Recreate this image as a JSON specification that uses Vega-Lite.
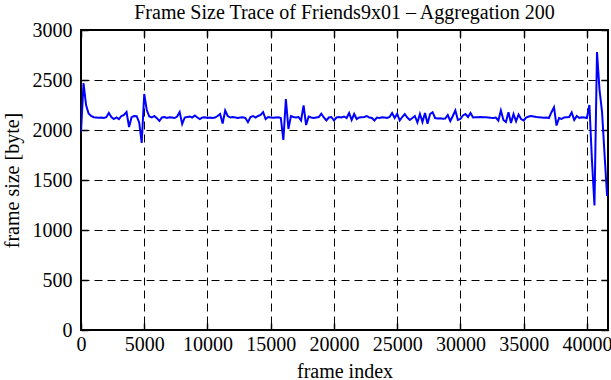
{
  "$schema": "https://vega.github.io/schema/vega-lite/v6.json",
  "width": 527,
  "height": 300,
  "autosize": {"type": "none"},
  "padding": {"left": 81, "top": 30, "right": 3, "bottom": 50},
  "background": "white",
  "config": {"view": {"stroke": "black", "strokeWidth": 2}, "font": "Liberation Serif"},
  "title": {"text": "Frame Size Trace of Friends9x01 – Aggregation 200", "fontSize": 20, "fontWeight": "normal", "font": "Liberation Serif", "color": "black", "offset": -3},
  "data": {"values": [
    {"frame": 0, "size": 1980}, {"frame": 200, "size": 2470}, {"frame": 400, "size": 2250}, {"frame": 600, "size": 2165}, {"frame": 800, "size": 2140},
    {"frame": 1000, "size": 2128}, {"frame": 1200, "size": 2125}, {"frame": 1400, "size": 2122}, {"frame": 1600, "size": 2125}, {"frame": 1800, "size": 2120},
    {"frame": 2000, "size": 2128}, {"frame": 2200, "size": 2170}, {"frame": 2400, "size": 2130}, {"frame": 2600, "size": 2110}, {"frame": 2800, "size": 2125},
    {"frame": 3000, "size": 2108}, {"frame": 3200, "size": 2140}, {"frame": 3400, "size": 2150}, {"frame": 3600, "size": 2180}, {"frame": 3800, "size": 2030},
    {"frame": 4000, "size": 2128}, {"frame": 4200, "size": 2140}, {"frame": 4400, "size": 2138}, {"frame": 4600, "size": 2075}, {"frame": 4800, "size": 1870},
    {"frame": 5000, "size": 2360}, {"frame": 5200, "size": 2200}, {"frame": 5400, "size": 2135}, {"frame": 5600, "size": 2125}, {"frame": 5800, "size": 2140},
    {"frame": 6000, "size": 2118}, {"frame": 6200, "size": 2090}, {"frame": 6400, "size": 2125}, {"frame": 6600, "size": 2130}, {"frame": 6800, "size": 2120},
    {"frame": 7000, "size": 2128}, {"frame": 7200, "size": 2125}, {"frame": 7400, "size": 2120}, {"frame": 7600, "size": 2135}, {"frame": 7800, "size": 2180},
    {"frame": 8000, "size": 2060}, {"frame": 8200, "size": 2125}, {"frame": 8400, "size": 2130}, {"frame": 8600, "size": 2135}, {"frame": 8800, "size": 2125},
    {"frame": 9000, "size": 2145}, {"frame": 9200, "size": 2125}, {"frame": 9400, "size": 2110}, {"frame": 9600, "size": 2125}, {"frame": 9800, "size": 2128},
    {"frame": 10000, "size": 2120}, {"frame": 10200, "size": 2125}, {"frame": 10400, "size": 2120}, {"frame": 10600, "size": 2125}, {"frame": 10800, "size": 2140},
    {"frame": 11000, "size": 2160}, {"frame": 11200, "size": 2065}, {"frame": 11400, "size": 2195}, {"frame": 11600, "size": 2140}, {"frame": 11800, "size": 2125},
    {"frame": 12000, "size": 2130}, {"frame": 12200, "size": 2125}, {"frame": 12400, "size": 2120}, {"frame": 12600, "size": 2125}, {"frame": 12800, "size": 2128},
    {"frame": 13000, "size": 2120}, {"frame": 13200, "size": 2078}, {"frame": 13400, "size": 2130}, {"frame": 13600, "size": 2140}, {"frame": 13800, "size": 2125},
    {"frame": 14000, "size": 2140}, {"frame": 14200, "size": 2150}, {"frame": 14400, "size": 2178}, {"frame": 14600, "size": 2110}, {"frame": 14800, "size": 2130},
    {"frame": 15000, "size": 2125}, {"frame": 15200, "size": 2122}, {"frame": 15400, "size": 2125}, {"frame": 15600, "size": 2128}, {"frame": 15800, "size": 2120},
    {"frame": 16000, "size": 1900}, {"frame": 16200, "size": 2310}, {"frame": 16400, "size": 2010}, {"frame": 16600, "size": 2140}, {"frame": 16800, "size": 2130},
    {"frame": 17000, "size": 2125}, {"frame": 17200, "size": 2130}, {"frame": 17400, "size": 2095}, {"frame": 17600, "size": 2245}, {"frame": 17800, "size": 2050},
    {"frame": 18000, "size": 2135}, {"frame": 18200, "size": 2125}, {"frame": 18400, "size": 2120}, {"frame": 18600, "size": 2125}, {"frame": 18800, "size": 2130},
    {"frame": 19000, "size": 2162}, {"frame": 19200, "size": 2125}, {"frame": 19400, "size": 2095}, {"frame": 19600, "size": 2125}, {"frame": 19800, "size": 2130},
    {"frame": 20000, "size": 2095}, {"frame": 20200, "size": 2125}, {"frame": 20400, "size": 2130}, {"frame": 20600, "size": 2125}, {"frame": 20800, "size": 2135},
    {"frame": 21000, "size": 2120}, {"frame": 21200, "size": 2170}, {"frame": 21400, "size": 2100}, {"frame": 21600, "size": 2160}, {"frame": 21800, "size": 2110},
    {"frame": 22000, "size": 2125}, {"frame": 22200, "size": 2128}, {"frame": 22400, "size": 2130}, {"frame": 22600, "size": 2140}, {"frame": 22800, "size": 2125},
    {"frame": 23000, "size": 2120}, {"frame": 23200, "size": 2095}, {"frame": 23400, "size": 2125}, {"frame": 23600, "size": 2120}, {"frame": 23800, "size": 2128},
    {"frame": 24000, "size": 2125}, {"frame": 24200, "size": 2120}, {"frame": 24400, "size": 2130}, {"frame": 24600, "size": 2170}, {"frame": 24800, "size": 2120},
    {"frame": 25000, "size": 2162}, {"frame": 25200, "size": 2095}, {"frame": 25400, "size": 2130}, {"frame": 25600, "size": 2160}, {"frame": 25800, "size": 2125},
    {"frame": 26000, "size": 2100}, {"frame": 26200, "size": 2120}, {"frame": 26400, "size": 2140}, {"frame": 26600, "size": 2075}, {"frame": 26800, "size": 2160},
    {"frame": 27000, "size": 2080}, {"frame": 27200, "size": 2170}, {"frame": 27400, "size": 2062}, {"frame": 27600, "size": 2160}, {"frame": 27800, "size": 2178},
    {"frame": 28000, "size": 2120}, {"frame": 28200, "size": 2115}, {"frame": 28400, "size": 2118}, {"frame": 28600, "size": 2112}, {"frame": 28800, "size": 2115},
    {"frame": 29000, "size": 2150}, {"frame": 29200, "size": 2090}, {"frame": 29400, "size": 2140}, {"frame": 29600, "size": 2195}, {"frame": 29800, "size": 2100},
    {"frame": 30000, "size": 2110}, {"frame": 30200, "size": 2145}, {"frame": 30400, "size": 2160}, {"frame": 30600, "size": 2130}, {"frame": 30800, "size": 2170},
    {"frame": 31000, "size": 2125}, {"frame": 31200, "size": 2128}, {"frame": 31400, "size": 2128}, {"frame": 31600, "size": 2130}, {"frame": 31800, "size": 2128},
    {"frame": 32000, "size": 2128}, {"frame": 32200, "size": 2125}, {"frame": 32400, "size": 2122}, {"frame": 32600, "size": 2120}, {"frame": 32800, "size": 2125},
    {"frame": 33000, "size": 2095}, {"frame": 33200, "size": 2195}, {"frame": 33400, "size": 2100}, {"frame": 33600, "size": 2080}, {"frame": 33800, "size": 2178},
    {"frame": 34000, "size": 2070}, {"frame": 34200, "size": 2160}, {"frame": 34400, "size": 2087}, {"frame": 34600, "size": 2155}, {"frame": 34800, "size": 2110},
    {"frame": 35000, "size": 2095}, {"frame": 35200, "size": 2125}, {"frame": 35400, "size": 2135}, {"frame": 35600, "size": 2140}, {"frame": 35800, "size": 2135},
    {"frame": 36000, "size": 2130}, {"frame": 36200, "size": 2128}, {"frame": 36400, "size": 2125}, {"frame": 36600, "size": 2122}, {"frame": 36800, "size": 2125},
    {"frame": 37000, "size": 2120}, {"frame": 37200, "size": 2178}, {"frame": 37400, "size": 2228}, {"frame": 37600, "size": 2045}, {"frame": 37800, "size": 2120},
    {"frame": 38000, "size": 2110}, {"frame": 38200, "size": 2125}, {"frame": 38400, "size": 2128}, {"frame": 38600, "size": 2130}, {"frame": 38800, "size": 2175},
    {"frame": 39000, "size": 2100}, {"frame": 39200, "size": 2140}, {"frame": 39400, "size": 2120}, {"frame": 39600, "size": 2128}, {"frame": 39800, "size": 2125},
    {"frame": 40000, "size": 2120}, {"frame": 40200, "size": 2250}, {"frame": 40400, "size": 1700}, {"frame": 40600, "size": 1245}, {"frame": 40800, "size": 2780},
    {"frame": 41000, "size": 2400}, {"frame": 41200, "size": 2180}, {"frame": 41400, "size": 1750}, {"frame": 41600, "size": 1340}
  ]},
  "layer": [
    {
      "mark": {"type": "line", "color": "#0000ff", "strokeWidth": 2, "clip": true},
      "encoding": {
        "x": {"field": "frame", "type": "quantitative",
          "scale": {"domain": [0, 41670], "nice": false, "zero": false},
          "axis": {"orient": "bottom", "title": "frame index", "values": [0, 5000, 10000, 15000, 20000, 25000, 30000, 35000, 40000],
            "format": "d", "grid": true, "gridDash": [8, 5], "gridColor": "black", "gridOpacity": 1, "gridWidth": 1,
            "domain": false, "tickSize": -7, "tickColor": "black", "tickWidth": 1.5, "labelPadding": 11,
            "labelFont": "Liberation Serif", "labelFontSize": 20, "labelColor": "black", "labelFlush": false, "labelOverlap": false,
            "titleFont": "Liberation Serif", "titleFontSize": 20, "titleFontWeight": "normal", "titleColor": "black", "titlePadding": 7}},
        "y": {"field": "size", "type": "quantitative",
          "scale": {"domain": [0, 3000], "nice": false, "zero": false},
          "axis": {"orient": "left", "title": "frame size [byte]", "values": [0, 500, 1000, 1500, 2000, 2500, 3000],
            "format": "d", "grid": true, "gridDash": [8, 5], "gridColor": "black", "gridOpacity": 1, "gridWidth": 1,
            "domain": false, "tickSize": -7, "tickColor": "black", "tickWidth": 1.5, "labelPadding": 16,
            "labelFont": "Liberation Serif", "labelFontSize": 20, "labelColor": "black", "labelFlush": false, "labelOverlap": false,
            "titleFont": "Liberation Serif", "titleFontSize": 20, "titleFontWeight": "normal", "titleColor": "black", "titlePadding": 10}}
      }
    },
    {
      "mark": {"type": "line", "opacity": 0},
      "encoding": {
        "x": {"field": "frame", "type": "quantitative",
          "scale": {"domain": [0, 41670], "nice": false, "zero": false},
          "axis": {"orient": "top", "title": null, "values": [0, 5000, 10000, 15000, 20000, 25000, 30000, 35000, 40000],
            "labels": false, "grid": false, "domain": false, "tickSize": -7, "tickColor": "black", "tickWidth": 1.5}},
        "y": {"field": "size", "type": "quantitative",
          "scale": {"domain": [0, 3000], "nice": false, "zero": false},
          "axis": {"orient": "right", "title": null, "values": [0, 500, 1000, 1500, 2000, 2500, 3000],
            "labels": false, "grid": false, "domain": false, "tickSize": -7, "tickColor": "black", "tickWidth": 1.5}}
      }
    }
  ],
  "resolve": {"scale": {"x": "independent", "y": "independent"}, "axis": {"x": "independent", "y": "independent"}}
}
